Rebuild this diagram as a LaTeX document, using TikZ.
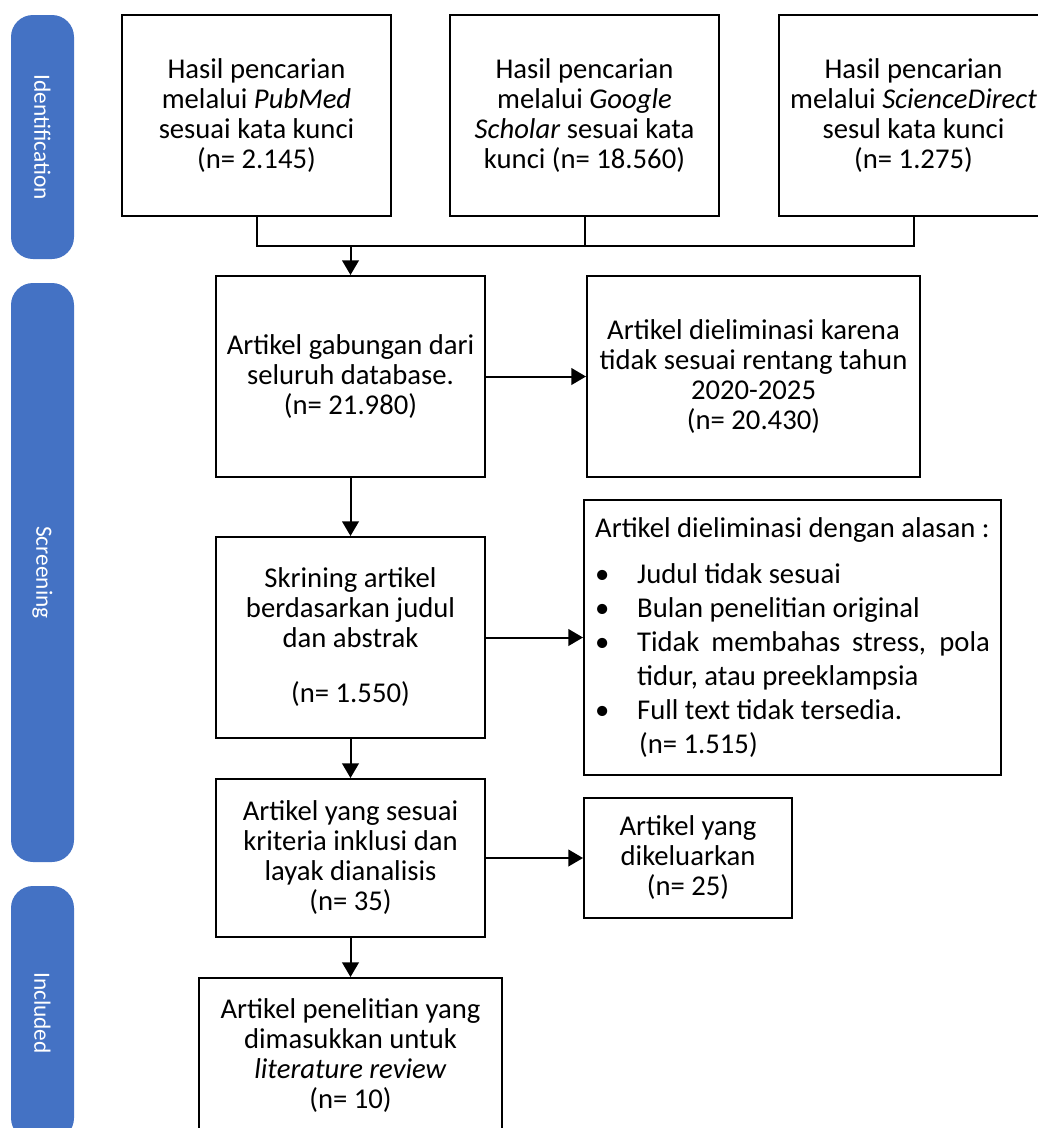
\documentclass[tikz,border=0pt]{standalone}
\usepackage{fontspec}
\setmainfont{Carlito}
\usepackage{tikz}
\usetikzlibrary{arrows.meta,positioning,calc}

\newlength{\px}
\setlength{\px}{0.75pt}
\definecolor{barblue}{HTML}{4472C4}

\begin{document}
\begin{tikzpicture}[x=0.75pt,y=-0.75pt,line width=1.5pt,
    box/.style={draw=black,rectangle,inner sep=0pt,align=center,
                font=\fontsize{21.5}{22.5}\selectfont},
    sidebar/.style={draw=none,fill=barblue,rectangle,rounded corners=22\px,
                minimum width=63\px},
    bartext/.style={text=white,rotate=-90,font=\fontsize{17.5}{20}\selectfont},
    arr/.style={-{Triangle[width=12.5pt,length=11pt]}}]

      \useasboundingbox (0,0) rectangle (1038,1128);

      % phase bars
      \node[sidebar,minimum height=244\px] (idbar) at (42.5,137) {};
      \node[sidebar,minimum height=579\px] (scbar) at (42.5,572.5) {};
      \node[sidebar,minimum height=254\px] (inbar) at (42.5,1013) {};
      \node[bartext] (idlabel) at (idbar) {Identification};
      \node[bartext] (sclabel) at (scbar) {Screening};
      \node[bartext] (inlabel) at (inbar) {Included};

      % identification
      \node[box,minimum width=269\px,minimum height=201\px] (pub) at (256.5,115.5)
           {Hasil pencarian\\ melalui \textit{PubMed}\\ sesuai kata kunci\\ (n= 2.145)};
      \node[box,minimum width=269\px,minimum height=201\px] (gsch) at (584.5,115.5)
           {Hasil pencarian\\ melalui \textit{Google}\\ \textit{Scholar} sesuai kata\\ kunci (n= 18.560)};
      \node[box,minimum width=269\px,minimum height=201\px] (sdir) at (913.5,115.5)
           {Hasil pencarian\\ melalui \textit{ScienceDirect}\\ sesul kata kunci\\ (n= 1.275)};

      % screening
      \node[box,minimum width=269\px,minimum height=201\px] (gab) at (350.5,376.5)
           {Artikel gabungan dari\\ seluruh database.\\ (n= 21.980)};
      \node[box,minimum width=333\px,minimum height=201\px] (elim) at (753.5,376.5)
           {Artikel dieliminasi karena\\ tidak sesuai rentang tahun\\ 2020-2025\\ (n= 20.430)};
      \node[box,minimum width=269\px,minimum height=201\px] (skr) at (350.5,637.5)
           {Skrining artikel\\ berdasarkan judul\\ dan abstrak\\[18.75pt] (n= 1.550)};
      \node[box,minimum width=417\px,minimum height=275\px,align=left,
            font=\fontsize{21.5}{25.5}\selectfont] (alasan) at (792.5,637.5)
           {Artikel dieliminasi dengan alasan :\\[9pt]
            \makebox[31.5pt][l]{\textbullet}Judul tidak sesuai\\
            \makebox[31.5pt][l]{\textbullet}Bulan penelitian original\\
            \makebox[31.5pt][l]{\textbullet}\makebox[264.5pt][s]{Tidak membahas stress, pola}\\
            \hspace*{31.5pt}tidur, atau preeklampsia\\
            \makebox[31.5pt][l]{\textbullet}Full text tidak tersedia.\\
            \hspace*{33pt}(n= 1.515)};
      \node[box,minimum width=269\px,minimum height=158\px] (inkl) at (350.5,858)
           {Artikel yang sesuai\\ kriteria inklusi dan\\ layak dianalisis\\ (n= 35)};
      \node[box,minimum width=208\px,minimum height=120\px] (kel) at (688,858)
           {Artikel yang\\ dikeluarkan\\ (n= 25)};

      % included
      \node[box,minimum width=303\px,minimum height=156\px] (final) at (350.5,1056)
           {Artikel penelitian yang\\ dimasukkan untuk\\ \textit{literature review}\\ (n= 10)};

      % connectors
      \coordinate (merge) at (350.5,246);
      \draw (pub.south) -- (pub.south |- merge) -| (sdir.south);
      \draw (gsch.south) -- (gsch.south |- merge);
      \draw[arr] (merge) -- (gab.north);
      \draw[arr] (gab.east) -- (elim.west);
      \draw[arr] (gab.south) -- (skr.north);
      \draw[arr] (skr.east) -- (alasan.west);
      \draw[arr] (skr.south) -- (inkl.north);
      \draw[arr] (inkl.east) -- (kel.west);
      \draw[arr] (inkl.south) -- (final.north);

    \end{tikzpicture}
\end{document}
